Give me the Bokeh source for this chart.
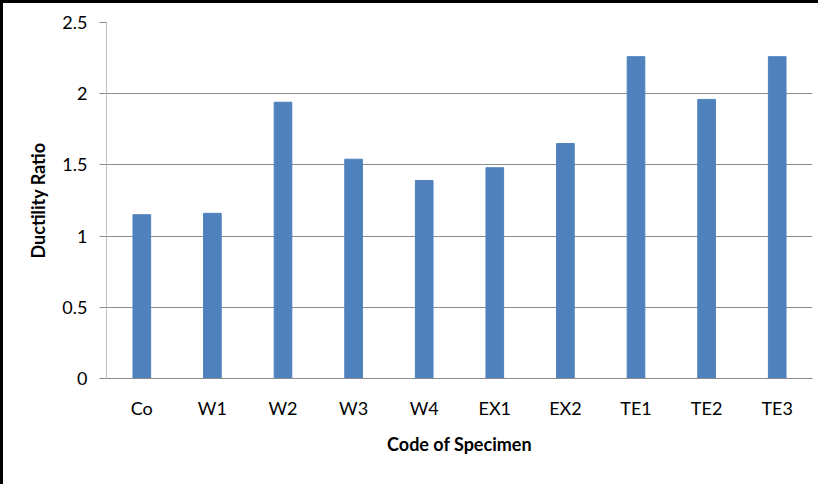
from bokeh.plotting import figure
from bokeh.models import FactorRange, Range1d, FixedTicker, ColumnDataSource
from bokeh.embed import file_html
from bokeh.resources import INLINE

categories = ["Co", "W1", "W2", "W3", "W4", "EX1", "EX2", "TE1", "TE2", "TE3"]
ductility = [1.15, 1.16, 1.94, 1.54, 1.39, 1.48, 1.65, 2.26, 1.96, 2.26]
y_ticks = [0, 0.5, 1, 1.5, 2, 2.5]
y_tick_labels = {0: "0", 0.5: "0.5", 1: "1", 1.5: "1.5", 2: "2", 2.5: "2.5"}

FONT = "Lato"

p = figure(width=818, height=484, output_backend="svg", toolbar_location=None,
           x_range=FactorRange(*categories, range_padding=0),
           y_range=Range1d(0, 2.5),
           min_border_left=103, min_border_right=9, min_border_top=19, min_border_bottom=109)

src = ColumnDataSource(dict(x=categories, top=ductility))
p.vbar(x="x", top="top", width=0.25, source=src, fill_color="#4F81BD", line_color="#4F81BD")

p.outline_line_color = None
p.background_fill_color = "white"
p.border_fill_color = "white"

p.xgrid.grid_line_color = None
p.ygrid.grid_line_color = "#8c8c8c"
p.ygrid.grid_line_width = 1

p.yaxis.ticker = FixedTicker(ticks=y_ticks)
p.yaxis.major_label_overrides = y_tick_labels
p.yaxis.axis_line_color = "#bfbfbf"
p.yaxis.major_tick_line_color = "#8c8c8c"
p.yaxis.major_tick_out = 7
p.yaxis.major_tick_in = 0
p.yaxis.minor_tick_line_color = None
p.yaxis.major_label_standoff = 12
p.yaxis.major_label_text_font = FONT
p.yaxis.major_label_text_font_size = "18px"
p.yaxis.major_label_text_color = "black"
p.yaxis.axis_label = "Ductility Ratio"
p.yaxis.axis_label_text_font = FONT
p.yaxis.axis_label_text_font_style = "bold"
p.yaxis.axis_label_text_font_size = "18px"
p.yaxis.axis_label_text_color = "black"
p.yaxis.axis_label_standoff = 10

p.xaxis.axis_line_color = "#8c8c8c"
p.xaxis.major_tick_line_color = None
p.xaxis.minor_tick_line_color = None
p.xaxis.major_label_standoff = 12
p.xaxis.major_label_text_font = FONT
p.xaxis.major_label_text_font_size = "18px"
p.xaxis.major_label_text_color = "black"
p.xaxis.axis_label = "Code of Specimen"
p.xaxis.axis_label_text_font = FONT
p.xaxis.axis_label_text_font_style = "bold"
p.xaxis.axis_label_text_font_size = "18px"
p.xaxis.axis_label_text_color = "black"
p.xaxis.axis_label_standoff = 11

p.styles = {"border-left": "3px solid black", "border-top": "3px solid black", "box-sizing": "border-box"}

open("out.html", "w").write(file_html(p, INLINE))
